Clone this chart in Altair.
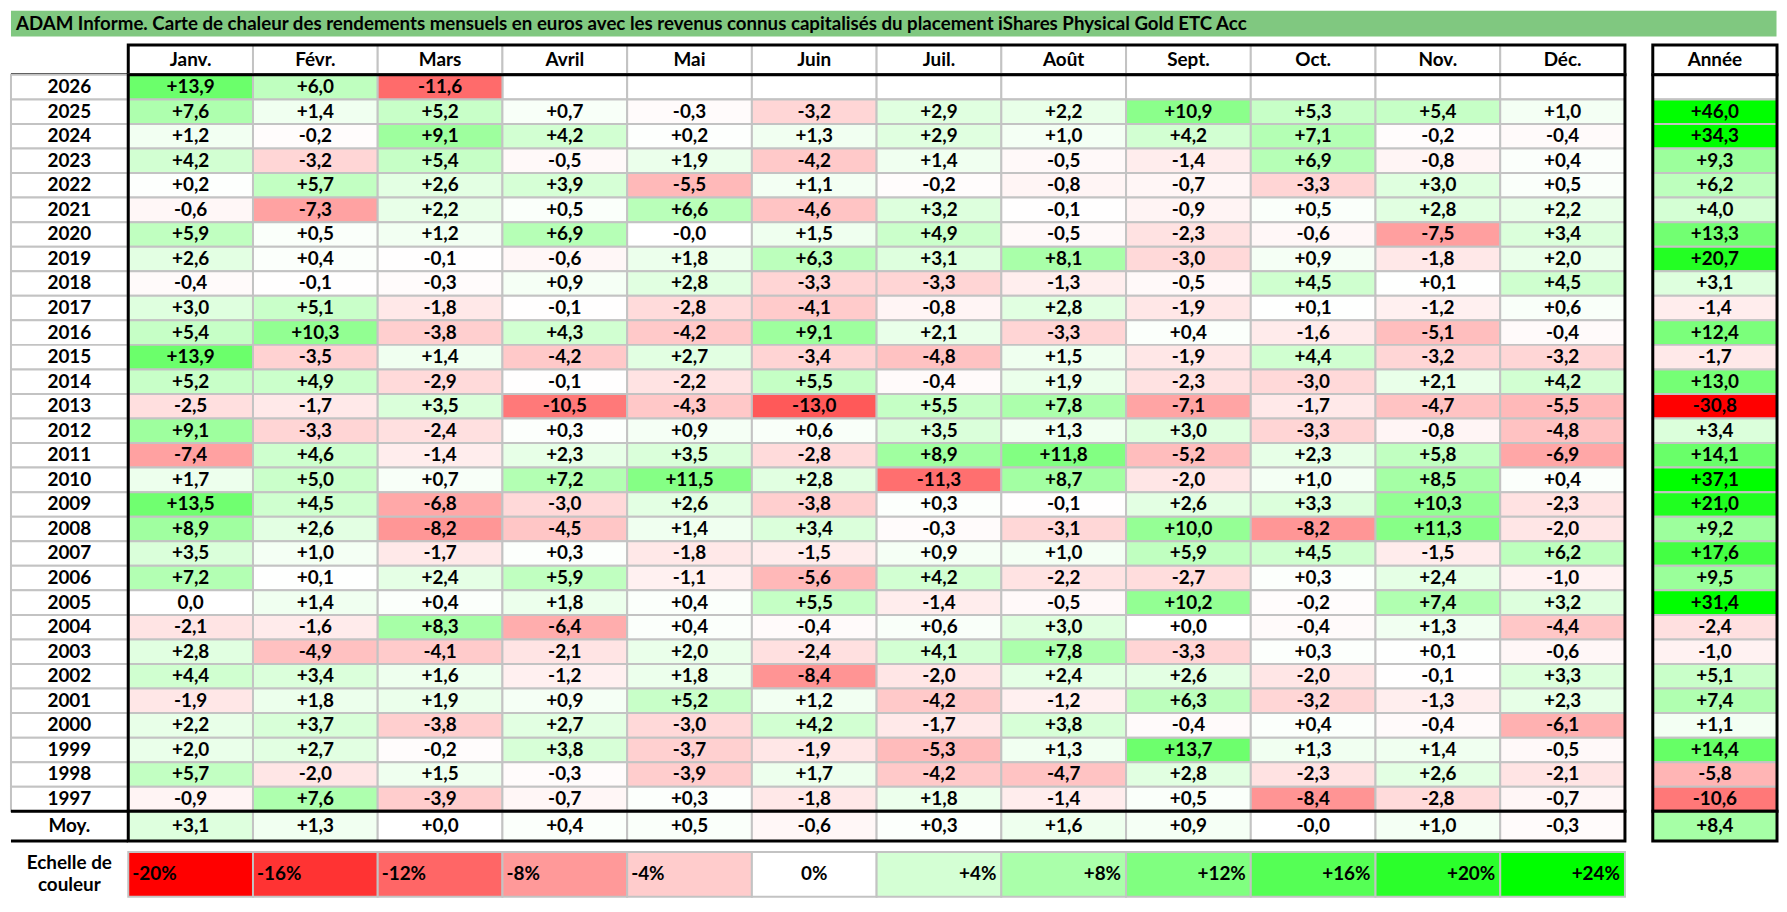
import altair as alt
import pandas as pd

TITLE = ("ADAM Informe. Carte de chaleur des rendements mensuels en euros avec les revenus "
         "connus capitalisés du placement iShares Physical Gold ETC Acc")
MONTHS = ["Janv.", "Févr.", "Mars", "Avril", "Mai", "Juin", "Juil.", "Août",
          "Sept.", "Oct.", "Nov.", "Déc."]
YEARS = [str(y) for y in range(2026, 1996, -1)]

R2026 = ["+13,9", "+6,0", "-11,6", "", "", "", "", "", "", "", "", ""]
R2025 = ["+7,6", "+1,4", "+5,2", "+0,7", "-0,3", "-3,2", "+2,9", "+2,2", "+10,9", "+5,3", "+5,4", "+1,0"]
R2024 = ["+1,2", "-0,2", "+9,1", "+4,2", "+0,2", "+1,3", "+2,9", "+1,0", "+4,2", "+7,1", "-0,2", "-0,4"]
R2023 = ["+4,2", "-3,2", "+5,4", "-0,5", "+1,9", "-4,2", "+1,4", "-0,5", "-1,4", "+6,9", "-0,8", "+0,4"]
R2022 = ["+0,2", "+5,7", "+2,6", "+3,9", "-5,5", "+1,1", "-0,2", "-0,8", "-0,7", "-3,3", "+3,0", "+0,5"]
R2021 = ["-0,6", "-7,3", "+2,2", "+0,5", "+6,6", "-4,6", "+3,2", "-0,1", "-0,9", "+0,5", "+2,8", "+2,2"]
R2020 = ["+5,9", "+0,5", "+1,2", "+6,9", "-0,0", "+1,5", "+4,9", "-0,5", "-2,3", "-0,6", "-7,5", "+3,4"]
R2019 = ["+2,6", "+0,4", "-0,1", "-0,6", "+1,8", "+6,3", "+3,1", "+8,1", "-3,0", "+0,9", "-1,8", "+2,0"]
R2018 = ["-0,4", "-0,1", "-0,3", "+0,9", "+2,8", "-3,3", "-3,3", "-1,3", "-0,5", "+4,5", "+0,1", "+4,5"]
R2017 = ["+3,0", "+5,1", "-1,8", "-0,1", "-2,8", "-4,1", "-0,8", "+2,8", "-1,9", "+0,1", "-1,2", "+0,6"]
R2016 = ["+5,4", "+10,3", "-3,8", "+4,3", "-4,2", "+9,1", "+2,1", "-3,3", "+0,4", "-1,6", "-5,1", "-0,4"]
R2015 = ["+13,9", "-3,5", "+1,4", "-4,2", "+2,7", "-3,4", "-4,8", "+1,5", "-1,9", "+4,4", "-3,2", "-3,2"]
R2014 = ["+5,2", "+4,9", "-2,9", "-0,1", "-2,2", "+5,5", "-0,4", "+1,9", "-2,3", "-3,0", "+2,1", "+4,2"]
R2013 = ["-2,5", "-1,7", "+3,5", "-10,5", "-4,3", "-13,0", "+5,5", "+7,8", "-7,1", "-1,7", "-4,7", "-5,5"]
R2012 = ["+9,1", "-3,3", "-2,4", "+0,3", "+0,9", "+0,6", "+3,5", "+1,3", "+3,0", "-3,3", "-0,8", "-4,8"]
R2011 = ["-7,4", "+4,6", "-1,4", "+2,3", "+3,5", "-2,8", "+8,9", "+11,8", "-5,2", "+2,3", "+5,8", "-6,9"]
R2010 = ["+1,7", "+5,0", "+0,7", "+7,2", "+11,5", "+2,8", "-11,3", "+8,7", "-2,0", "+1,0", "+8,5", "+0,4"]
R2009 = ["+13,5", "+4,5", "-6,8", "-3,0", "+2,6", "-3,8", "+0,3", "-0,1", "+2,6", "+3,3", "+10,3", "-2,3"]
R2008 = ["+8,9", "+2,6", "-8,2", "-4,5", "+1,4", "+3,4", "-0,3", "-3,1", "+10,0", "-8,2", "+11,3", "-2,0"]
R2007 = ["+3,5", "+1,0", "-1,7", "+0,3", "-1,8", "-1,5", "+0,9", "+1,0", "+5,9", "+4,5", "-1,5", "+6,2"]
R2006 = ["+7,2", "+0,1", "+2,4", "+5,9", "-1,1", "-5,6", "+4,2", "-2,2", "-2,7", "+0,3", "+2,4", "-1,0"]
R2005 = ["0,0", "+1,4", "+0,4", "+1,8", "+0,4", "+5,5", "-1,4", "-0,5", "+10,2", "-0,2", "+7,4", "+3,2"]
R2004 = ["-2,1", "-1,6", "+8,3", "-6,4", "+0,4", "-0,4", "+0,6", "+3,0", "+0,0", "-0,4", "+1,3", "-4,4"]
R2003 = ["+2,8", "-4,9", "-4,1", "-2,1", "+2,0", "-2,4", "+4,1", "+7,8", "-3,3", "+0,3", "+0,1", "-0,6"]
R2002 = ["+4,4", "+3,4", "+1,6", "-1,2", "+1,8", "-8,4", "-2,0", "+2,4", "+2,6", "-2,0", "-0,1", "+3,3"]
R2001 = ["-1,9", "+1,8", "+1,9", "+0,9", "+5,2", "+1,2", "-4,2", "-1,2", "+6,3", "-3,2", "-1,3", "+2,3"]
R2000 = ["+2,2", "+3,7", "-3,8", "+2,7", "-3,0", "+4,2", "-1,7", "+3,8", "-0,4", "+0,4", "-0,4", "-6,1"]
R1999 = ["+2,0", "+2,7", "-0,2", "+3,8", "-3,7", "-1,9", "-5,3", "+1,3", "+13,7", "+1,3", "+1,4", "-0,5"]
R1998 = ["+5,7", "-2,0", "+1,5", "-0,3", "-3,9", "+1,7", "-4,2", "-4,7", "+2,8", "-2,3", "+2,6", "-2,1"]
R1997 = ["-0,9", "+7,6", "-3,9", "-0,7", "+0,3", "-1,8", "+1,8", "-1,4", "+0,5", "-8,4", "-2,8", "-0,7"]

ANNUAL = ["", "+46,0", "+34,3", "+9,3", "+6,2", "+4,0", "+13,3", "+20,7", "+3,1", "-1,4",
          "+12,4", "-1,7", "+13,0", "-30,8", "+3,4", "+14,1", "+37,1", "+21,0", "+9,2",
          "+17,6", "+9,5", "+31,4", "-2,4", "-1,0", "+5,1", "+7,4", "+1,1", "+14,4",
          "-5,8", "-10,6"]
AVG = ["+3,1", "+1,3", "+0,0", "+0,4", "+0,5", "-0,6", "+0,3", "+1,6", "+0,9", "-0,0", "+1,0", "-0,3"]
AVG_YEAR = "+8,4"

SCALE_VALUES = [-20, -16, -12, -8, -4, 0, 4, 8, 12, 16, 20, 24]
SCALE_LABELS = ["-20%", "-16%", "-12%", "-8%", "-4%", "0%", "+4%", "+8%", "+12%", "+16%", "+20%", "+24%"]

ROWS = [R2026, R2025, R2024, R2023, R2022, R2021, R2020, R2019, R2018, R2017,
        R2016, R2015, R2014, R2013, R2012, R2011, R2010, R2009, R2008, R2007,
        R2006, R2005, R2004, R2003, R2002, R2001, R2000, R1999, R1998, R1997]

# ---------------- style ----------------
FONT = "Lato"
GRID = "#c3c3c3"
BAR_GREEN = "#80c880"
CW = 125.5          # month column width
LW = 117.5          # row-label column width
AW = 125            # annual column width
RH = 24.7           # body row height
HH = 30             # header / average row height
GAP = 28
LEG_GAP = 11
LEG_H = 45
TOTAL_W = LW + 12 * CW + GAP + AW
TXT = dict(font=FONT, fontSize=19, fontWeight="bold", color="black")

CSCALE = alt.Scale(domain=[-20, 0, 24], range=["#ff0000", "#ffffff", "#00ff00"],
                   clamp=True, interpolate="rgb")


def num(s):
    return float(s.replace(",", ".")) if s else None


def band(domain):
    return alt.Scale(domain=domain, paddingInner=0, paddingOuter=0)


XM = alt.X("month:N", scale=band(MONTHS), axis=None)
YB = alt.Y("year:N", scale=band(YEARS), axis=None)
YS = alt.Y("row:N", scale=band(["r"]), axis=None)
XS = alt.X("col:N", scale=band(["c"]), axis=None)

DUMMY = alt.Data(values=[{}])


def frame():
    return alt.Chart(DUMMY).mark_rect(fillOpacity=0, stroke="black", strokeWidth=3).encode(
        x=alt.value(0), x2=alt.value("width"), y=alt.value(0), y2=alt.value("height"))


def hline(where):
    return alt.Chart(DUMMY).mark_rule(color="black", strokeWidth=3).encode(
        x=alt.value(0), x2=alt.value("width"), y=alt.value(where))


def spacer(w, h):
    return alt.Chart(DUMMY).mark_point(opacity=0).encode(
        x=alt.value(0), y=alt.value(0)).properties(width=w, height=h)


def cells(df, x, y):
    base = alt.Chart(df).mark_rect(fill="white", stroke=GRID, strokeWidth=2).encode(x=x, y=y)
    col = alt.Chart(df).transform_filter("datum.label != ''").mark_rect(
        stroke=GRID, strokeWidth=2).encode(
        x=x, y=y, color=alt.Color("value:Q", scale=CSCALE, legend=None))
    txt = alt.Chart(df).mark_text(**TXT).encode(x=x, y=y, text="label:N")
    return [base, col, txt]


# ---------------- data tables ----------------
body = pd.DataFrame([
    {"year": yr, "month": m, "label": s, "value": num(s)}
    for yr, row in zip(YEARS, ROWS) for m, s in zip(MONTHS, row)
])
avg = pd.DataFrame([{"row": "r", "month": m, "label": s, "value": num(s)}
                    for m, s in zip(MONTHS, AVG)])
head = pd.DataFrame([{"row": "r", "month": m} for m in MONTHS])
ann = pd.DataFrame([{"col": "c", "year": yr, "label": s, "value": num(s)}
                    for yr, s in zip(YEARS, ANNUAL)])
ann_avg = pd.DataFrame([{"col": "c", "row": "r", "label": AVG_YEAR, "value": num(AVG_YEAR)}])
ann_head = pd.DataFrame([{"col": "c", "row": "r", "label": "Année"}])
years_df = pd.DataFrame([{"col": "c", "year": yr} for yr in YEARS])
moy_df = pd.DataFrame([{"col": "c", "row": "r", "label": "Moy."}])
leg = pd.DataFrame([{"row": "r", "lab": l, "v": v} for l, v in zip(SCALE_LABELS, SCALE_VALUES)])
leg_lab = pd.DataFrame([{"col": "c", "row": "r", "label": "Echelle de\ncouleur"}])
title_df = pd.DataFrame([{"t": TITLE}])

# ---------------- title bar ----------------
title = alt.Chart(title_df).mark_text(
    align="left", baseline="middle", font=FONT, fontSize=18.8, fontWeight="bold", color="black"
).encode(x=alt.value(5), y=alt.value(13), text="t:N").properties(
    width=TOTAL_W, height=26, view=alt.ViewBackground(fill=BAR_GREEN, strokeWidth=0))

BH = RH * len(YEARS)

# ---------------- label column ----------------
lab_head = alt.layer(hline("height")).properties(width=LW, height=HH)
lab_body = alt.layer(
    alt.Chart(years_df).mark_rect(fill="white", stroke=GRID, strokeWidth=2).encode(x=XS, y=YB),
    alt.Chart(years_df).mark_text(**TXT).encode(x=XS, y=YB, text="year:N"),
).properties(width=LW, height=BH)
lab_moy = alt.layer(
    alt.Chart(moy_df).mark_text(**TXT).encode(x=XS, y=YS, text="label:N"),
    hline(0), hline("height"),
).properties(width=LW, height=HH)

# ---------------- month columns ----------------
mon_head = alt.layer(
    alt.Chart(head).mark_rect(fill="white", stroke=GRID, strokeWidth=2).encode(x=XM, y=YS),
    alt.Chart(head).mark_text(**TXT).encode(x=XM, y=YS, text="month:N"),
    frame(),
).properties(width=12 * CW, height=HH)
mon_body = alt.layer(*cells(body, XM, YB), frame()).properties(width=12 * CW, height=BH)
mon_moy = alt.layer(*cells(avg, XM, YS), frame()).properties(width=12 * CW, height=HH)

# ---------------- annual column ----------------
an_head = alt.layer(
    alt.Chart(ann_head).mark_text(**TXT).encode(x=XS, y=YS, text="label:N"),
    frame(),
).properties(width=AW, height=HH)
an_body = alt.layer(*cells(ann, XS, YB), frame()).properties(width=AW, height=BH)
an_moy = alt.layer(*cells(ann_avg, XS, YS), frame()).properties(width=AW, height=HH)

# ---------------- colour scale legend ----------------
XL = alt.X("lab:N", scale=band(SCALE_LABELS), axis=None)
XL0 = alt.X("lab:N", scale=band(SCALE_LABELS), axis=None, bandPosition=0)
XL1 = alt.X("lab:N", scale=band(SCALE_LABELS), axis=None, bandPosition=1)
leg_cells = alt.layer(
    alt.Chart(leg).mark_rect(stroke=GRID, strokeWidth=2).encode(
        x=XL, y=YS, color=alt.Color("v:Q", scale=CSCALE, legend=None)),
    alt.Chart(leg).transform_filter("datum.v < 0").mark_text(align="left", dx=4, **TXT).encode(
        x=XL0, y=YS, text="lab:N"),
    alt.Chart(leg).transform_filter("datum.v == 0").mark_text(**TXT).encode(
        x=XL, y=YS, text="lab:N"),
    alt.Chart(leg).transform_filter("datum.v > 0").mark_text(align="right", dx=-5, **TXT).encode(
        x=XL1, y=YS, text="lab:N"),
).properties(width=12 * CW, height=LEG_H)
leg_label = alt.Chart(leg_lab).mark_text(lineBreak="\n", lineHeight=22, dy=-11, **TXT).encode(
    x=XS, y=YS, text="label:N").properties(width=LW, height=LEG_H)

grid = alt.concat(
    lab_head, mon_head, spacer(GAP, HH), an_head,
    lab_body, mon_body, spacer(GAP, BH), an_body,
    lab_moy, mon_moy, spacer(GAP, HH), an_moy,
    spacer(LW, LEG_GAP), spacer(12 * CW, LEG_GAP), spacer(GAP, LEG_GAP), spacer(AW, LEG_GAP),
    leg_label, leg_cells, spacer(GAP, LEG_H), spacer(AW, LEG_H),
    columns=4, spacing=0, bounds="flush", align="each",
)

chart = alt.vconcat(title, grid, spacing=5.5, bounds="full").properties(
    padding=0, background="white").configure_view(strokeWidth=0)

chart.save("out.html", embed_options={"renderer": "svg", "actions": False})
